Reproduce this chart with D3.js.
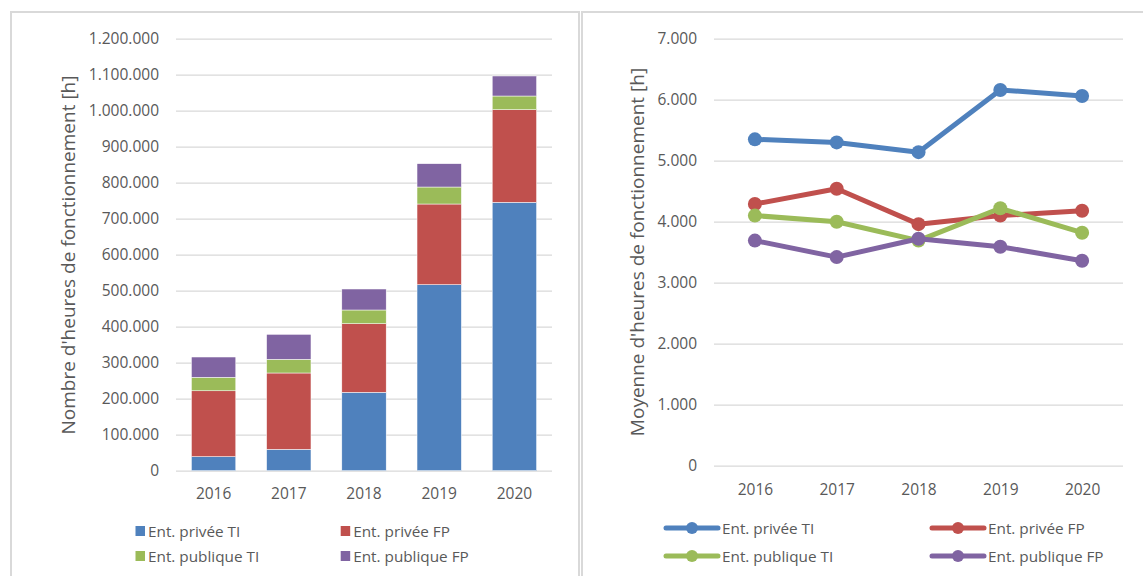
<!DOCTYPE html>
<html lang="fr">
<head>
	<meta charset="UTF-8">
	<title>Heures de fonctionnement</title>
	<script src="https://cdn.jsdelivr.net/npm/d3@7/dist/d3.min.js"></script>
	<style>
	body {
		margin: 0;
		background-color: #ffffff;
		font-family: "Open Sans", sans-serif;
	}
	.grid line {
		stroke: #d9d9d9;
		stroke-width: 1.3;
	}
	.grid .domain {
		display: none;
	}
	text {
		fill: #595959;
		font-family: "Open Sans", sans-serif;
	}
	.tick text {
		font-size: 15.5px;
	}
	.legend text {
		font-size: 15.3px;
	}
	.axis-title {
		font-size: 19px;
	}
	</style>
</head>
<body>
<svg id="chart" width="1143" height="576"></svg>

<script>
	var years = ['2016', '2017', '2018', '2019', '2020'];
	var seriesNames = ['Ent. privée TI', 'Ent. privée FP', 'Ent. publique TI', 'Ent. publique FP'];
	var seriesColors = ['#4f81bd', '#c0504d', '#9bbb59', '#8064a2'];

	// total hours (stacked bars)
	var totalPriveeTI = [39000, 59400, 217700, 516700, 745500];
	var totalPriveeFP = [183000, 212000, 190600, 224100, 257300];
	var totalPubliqueTI = [37400, 38000, 38100, 47200, 38000];
	var totalPubliqueFP = [56400, 69400, 58300, 64800, 55600];

	// average hours (lines)
	var moyPriveeTI = [5350, 5300, 5140, 6160, 6060];
	var moyPriveeFP = [4290, 4540, 3960, 4100, 4180];
	var moyPubliqueTI = [4100, 4000, 3690, 4220, 3820];
	var moyPubliqueFP = [3690, 3420, 3720, 3590, 3360];

	var totalSeries = [totalPriveeTI, totalPriveeFP, totalPubliqueTI, totalPubliqueFP];
	var moySeries = [moyPriveeTI, moyPriveeFP, moyPubliqueTI, moyPubliqueFP];

	var fr = d3.formatLocale({decimal: ',', thousands: '.', grouping: [3], currency: ['', '']});
	var fmt = fr.format(',d');

	var svg = d3.select('#chart');

	// panel frames
	svg.append('rect')
		.attr('x', 11).attr('y', 12)
		.attr('width', 568).attr('height', 600)
		.attr('fill', 'none')
		.attr('stroke', '#d9d9d9')
		.attr('stroke-width', 2);

	svg.append('rect')
		.attr('x', 582).attr('y', 12)
		.attr('width', 600).attr('height', 600)
		.attr('fill', 'none')
		.attr('stroke', '#d9d9d9')
		.attr('stroke-width', 2);

	/* ---------- left: stacked bars ---------- */
	var left = {x0: 176, x1: 552, y0: 470.7, y1: 38.7};

	var xBar = d3.scaleBand()
		.domain(years)
		.range([left.x0, left.x1])
		.paddingInner(0.41)
		.paddingOuter(0.205);

	var yBar = d3.scaleLinear()
		.domain([0, 1200000])
		.range([left.y0, left.y1]);

	svg.append('g')
		.attr('class', 'grid')
		.attr('transform', 'translate(' + left.x0 + ',0)')
		.call(d3.axisLeft(yBar)
			.tickValues(d3.range(0, 1200001, 100000))
			.tickSize(-(left.x1 - left.x0))
			.tickPadding(17)
			.tickFormat(fmt));

	svg.append('g')
		.attr('class', 'grid')
		.attr('transform', 'translate(0,' + left.y0 + ')')
		.call(d3.axisBottom(xBar).tickSize(0).tickPadding(17.5));

	var stackData = years.map(function (y, i) {
		var row = {year: y};
		seriesNames.forEach(function (s, j) { row[s] = totalSeries[j][i]; });
		return row;
	});

	var stacked = d3.stack().keys(seriesNames)(stackData);

	svg.append('g')
		.selectAll('g')
		.data(stacked)
		.enter().append('g')
		.attr('fill', function (d, i) { return seriesColors[i]; })
		.selectAll('rect')
		.data(function (d) { return d; })
		.enter().append('rect')
		.attr('x', function (d) { return xBar(d.data.year); })
		.attr('y', function (d) { return yBar(d[1]); })
		.attr('width', xBar.bandwidth())
		.attr('height', function (d) { return yBar(d[0]) - yBar(d[1]); })
		.attr('stroke', '#ffffff')
		.attr('stroke-width', 0.5);

	svg.append('text')
		.attr('class', 'axis-title')
		.attr('transform', 'translate(74.5,255) rotate(-90)')
		.attr('text-anchor', 'middle')
		.text("Nombre d'heures de fonctionnement [h]");

	var legL = svg.append('g').attr('class', 'legend');
	var legLpos = [[135.5, 531], [340.7, 531], [135.5, 556], [340.7, 556]];
	seriesNames.forEach(function (s, i) {
		var g = legL.append('g').attr('transform', 'translate(' + legLpos[i][0] + ',' + legLpos[i][1] + ')');
		g.append('rect')
			.attr('x', 0).attr('y', -5)
			.attr('width', 9.5).attr('height', 10)
			.attr('fill', seriesColors[i]);
		g.append('text')
			.attr('x', 12.5).attr('y', 5.5)
			.text(s);
	});

	/* ---------- right: lines ---------- */
	var right = {x0: 714, x1: 1123, y0: 465.7, y1: 38.7};

	var xLine = d3.scalePoint()
		.domain(years)
		.range([right.x0, right.x1])
		.padding(0.5);

	var yLine = d3.scaleLinear()
		.domain([0, 7000])
		.range([right.y0, right.y1]);

	svg.append('g')
		.attr('class', 'grid')
		.attr('transform', 'translate(' + right.x0 + ',0)')
		.call(d3.axisLeft(yLine)
			.tickValues(d3.range(0, 7001, 1000))
			.tickSize(-(right.x1 - right.x0))
			.tickPadding(17)
			.tickFormat(fmt));

	svg.append('g')
		.attr('class', 'grid')
		.attr('transform', 'translate(0,' + right.y0 + ')')
		.call(d3.axisBottom(xLine).tickSize(0).tickPadding(18));

	var line = d3.line()
		.x(function (d, i) { return xLine(years[i]); })
		.y(function (d) { return yLine(d); });

	moySeries.forEach(function (vals, j) {
		var g = svg.append('g');
		g.append('path')
			.datum(vals)
			.attr('d', line)
			.attr('fill', 'none')
			.attr('stroke', seriesColors[j])
			.attr('stroke-width', 5)
			.attr('stroke-linejoin', 'round')
			.attr('stroke-linecap', 'round');
		g.selectAll('circle')
			.data(vals)
			.enter().append('circle')
			.attr('cx', function (d, i) { return xLine(years[i]); })
			.attr('cy', function (d) { return yLine(d); })
			.attr('r', 7)
			.attr('fill', seriesColors[j]);
	});

	svg.append('text')
		.attr('class', 'axis-title')
		.attr('transform', 'translate(643.5,252) rotate(-90)')
		.attr('text-anchor', 'middle')
		.text("Moyenne d'heures de fonctionnement [h]");

	var legR = svg.append('g').attr('class', 'legend');
	var legRpos = [[666, 528], [932, 528], [666, 556], [932, 556]];
	seriesNames.forEach(function (s, i) {
		var g = legR.append('g').attr('transform', 'translate(' + legRpos[i][0] + ',' + legRpos[i][1] + ')');
		g.append('line')
			.attr('x1', 0).attr('x2', 52)
			.attr('y1', 0).attr('y2', 0)
			.attr('stroke', seriesColors[i])
			.attr('stroke-width', 5)
			.attr('stroke-linecap', 'round');
		g.append('circle')
			.attr('cx', 26).attr('cy', 0)
			.attr('r', 6)
			.attr('fill', seriesColors[i]);
		g.append('text')
			.attr('x', 56).attr('y', 5.5)
			.text(s);
	});
</script>
</body>
</html>
